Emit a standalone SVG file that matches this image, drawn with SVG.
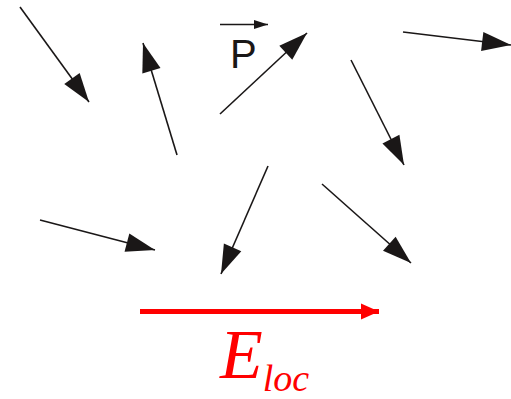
<svg xmlns="http://www.w3.org/2000/svg" width="511" height="399" viewBox="0 0 511 399">
<style>
.d{stroke:#1a1717;stroke-width:1.6;fill:none;marker-end:url(#h)}
</style>
<defs>
<marker id="h" markerUnits="userSpaceOnUse" markerWidth="30" markerHeight="20" refX="29" refY="9.5" orient="auto" overflow="visible">
<path d="M0,0 L29,9.5 L0,19 Z" fill="#1a1717"/>
</marker>
<marker id="hs" markerUnits="userSpaceOnUse" markerWidth="14" markerHeight="9" refX="14" refY="4.5" orient="auto" overflow="visible">
<path d="M0,0 L14,4.5 L0,9 Z" fill="#1a1717"/>
</marker>
<marker id="hr" markerUnits="userSpaceOnUse" markerWidth="18" markerHeight="16" refX="18" refY="8" orient="auto" overflow="visible">
<path d="M0,0 L18,8 L0,16 Z" fill="#ff0000"/>
</marker>
</defs>
<rect width="511" height="399" fill="#ffffff"/>
<g id="connectors">
<line class="d" x1="20" y1="7" x2="89" y2="102"/>
<line class="d" x1="177" y1="155" x2="143" y2="43"/>
<line class="d" x1="220" y1="114" x2="307" y2="33"/>
<line class="d" x1="403" y1="32" x2="511" y2="45"/>
<line class="d" x1="351" y1="60" x2="404" y2="165"/>
<line class="d" x1="40" y1="220" x2="155" y2="250"/>
<line class="d" x1="268" y1="166" x2="221" y2="274"/>
<line class="d" x1="322" y1="184" x2="411" y2="263"/>
</g>
<g id="P">
<line x1="220" y1="24.5" x2="268" y2="24.5" stroke="#1a1717" stroke-width="1.3" marker-end="url(#hs)"/>
<text x="230" y="68" font-family="Liberation Sans, Arial, sans-serif" font-size="40" fill="#1a1717">P</text>
</g>
<g id="Eloc">
<line x1="140" y1="311.5" x2="379" y2="311.5" stroke="#ff0000" stroke-width="5" marker-end="url(#hr)"/>
<text x="220" y="378" font-family="Liberation Serif, 'Times New Roman', serif" font-style="italic" fill="#ff0000"><tspan font-size="70">E</tspan><tspan font-size="38" dy="13">loc</tspan></text>
</g>
</svg>
